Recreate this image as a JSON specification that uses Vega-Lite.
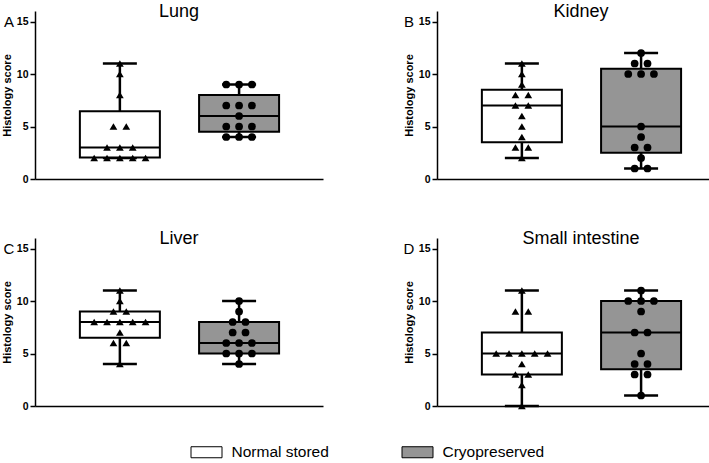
{
  "$schema": "https://vega.github.io/schema/vega-lite/v6.json",
  "padding": {"left": 1, "top": 3, "right": 2, "bottom": 2},
  "datasets": {
    "boxes": [
      {"organ": "Lung", "group": "Normal stored", "min": 2, "q1": 2.05, "median": 3, "q3": 6.45, "max": 11},
      {"organ": "Lung", "group": "Cryopreserved", "min": 4, "q1": 4.5, "median": 6, "q3": 8, "max": 9},
      {"organ": "Kidney", "group": "Normal stored", "min": 2, "q1": 3.5, "median": 7, "q3": 8.5, "max": 11},
      {"organ": "Kidney", "group": "Cryopreserved", "min": 1, "q1": 2.5, "median": 5, "q3": 10.5, "max": 12},
      {"organ": "Liver", "group": "Normal stored", "min": 4, "q1": 6.5, "median": 8, "q3": 9, "max": 11},
      {"organ": "Liver", "group": "Cryopreserved", "min": 4, "q1": 5, "median": 6, "q3": 8, "max": 10},
      {"organ": "Small intestine", "group": "Normal stored", "min": 0, "q1": 3, "median": 5, "q3": 7, "max": 11},
      {"organ": "Small intestine", "group": "Cryopreserved", "min": 1, "q1": 3.5, "median": 7, "q3": 10, "max": 11}
    ],
    "points": [
      {"organ": "Lung", "group": "Normal stored", "score": 2},
      {"organ": "Lung", "group": "Normal stored", "score": 2},
      {"organ": "Lung", "group": "Normal stored", "score": 2},
      {"organ": "Lung", "group": "Normal stored", "score": 2},
      {"organ": "Lung", "group": "Normal stored", "score": 2},
      {"organ": "Lung", "group": "Normal stored", "score": 3},
      {"organ": "Lung", "group": "Normal stored", "score": 3},
      {"organ": "Lung", "group": "Normal stored", "score": 3},
      {"organ": "Lung", "group": "Normal stored", "score": 5},
      {"organ": "Lung", "group": "Normal stored", "score": 5},
      {"organ": "Lung", "group": "Normal stored", "score": 8},
      {"organ": "Lung", "group": "Normal stored", "score": 10},
      {"organ": "Lung", "group": "Normal stored", "score": 11},
      {"organ": "Lung", "group": "Cryopreserved", "score": 4},
      {"organ": "Lung", "group": "Cryopreserved", "score": 4},
      {"organ": "Lung", "group": "Cryopreserved", "score": 4},
      {"organ": "Lung", "group": "Cryopreserved", "score": 5},
      {"organ": "Lung", "group": "Cryopreserved", "score": 5},
      {"organ": "Lung", "group": "Cryopreserved", "score": 5},
      {"organ": "Lung", "group": "Cryopreserved", "score": 6},
      {"organ": "Lung", "group": "Cryopreserved", "score": 7},
      {"organ": "Lung", "group": "Cryopreserved", "score": 7},
      {"organ": "Lung", "group": "Cryopreserved", "score": 7},
      {"organ": "Lung", "group": "Cryopreserved", "score": 9},
      {"organ": "Lung", "group": "Cryopreserved", "score": 9},
      {"organ": "Lung", "group": "Cryopreserved", "score": 9},
      {"organ": "Kidney", "group": "Normal stored", "score": 2},
      {"organ": "Kidney", "group": "Normal stored", "score": 3},
      {"organ": "Kidney", "group": "Normal stored", "score": 3},
      {"organ": "Kidney", "group": "Normal stored", "score": 4},
      {"organ": "Kidney", "group": "Normal stored", "score": 5},
      {"organ": "Kidney", "group": "Normal stored", "score": 6},
      {"organ": "Kidney", "group": "Normal stored", "score": 7},
      {"organ": "Kidney", "group": "Normal stored", "score": 7},
      {"organ": "Kidney", "group": "Normal stored", "score": 8},
      {"organ": "Kidney", "group": "Normal stored", "score": 8},
      {"organ": "Kidney", "group": "Normal stored", "score": 9},
      {"organ": "Kidney", "group": "Normal stored", "score": 10},
      {"organ": "Kidney", "group": "Normal stored", "score": 11},
      {"organ": "Kidney", "group": "Cryopreserved", "score": 1},
      {"organ": "Kidney", "group": "Cryopreserved", "score": 1},
      {"organ": "Kidney", "group": "Cryopreserved", "score": 2},
      {"organ": "Kidney", "group": "Cryopreserved", "score": 3},
      {"organ": "Kidney", "group": "Cryopreserved", "score": 3},
      {"organ": "Kidney", "group": "Cryopreserved", "score": 4},
      {"organ": "Kidney", "group": "Cryopreserved", "score": 5},
      {"organ": "Kidney", "group": "Cryopreserved", "score": 10},
      {"organ": "Kidney", "group": "Cryopreserved", "score": 10},
      {"organ": "Kidney", "group": "Cryopreserved", "score": 10},
      {"organ": "Kidney", "group": "Cryopreserved", "score": 11},
      {"organ": "Kidney", "group": "Cryopreserved", "score": 11},
      {"organ": "Kidney", "group": "Cryopreserved", "score": 12},
      {"organ": "Liver", "group": "Normal stored", "score": 4},
      {"organ": "Liver", "group": "Normal stored", "score": 6},
      {"organ": "Liver", "group": "Normal stored", "score": 6},
      {"organ": "Liver", "group": "Normal stored", "score": 7},
      {"organ": "Liver", "group": "Normal stored", "score": 8},
      {"organ": "Liver", "group": "Normal stored", "score": 8},
      {"organ": "Liver", "group": "Normal stored", "score": 8},
      {"organ": "Liver", "group": "Normal stored", "score": 8},
      {"organ": "Liver", "group": "Normal stored", "score": 8},
      {"organ": "Liver", "group": "Normal stored", "score": 9},
      {"organ": "Liver", "group": "Normal stored", "score": 9},
      {"organ": "Liver", "group": "Normal stored", "score": 10},
      {"organ": "Liver", "group": "Normal stored", "score": 11},
      {"organ": "Liver", "group": "Cryopreserved", "score": 4},
      {"organ": "Liver", "group": "Cryopreserved", "score": 5},
      {"organ": "Liver", "group": "Cryopreserved", "score": 5},
      {"organ": "Liver", "group": "Cryopreserved", "score": 5},
      {"organ": "Liver", "group": "Cryopreserved", "score": 6},
      {"organ": "Liver", "group": "Cryopreserved", "score": 6},
      {"organ": "Liver", "group": "Cryopreserved", "score": 6},
      {"organ": "Liver", "group": "Cryopreserved", "score": 7},
      {"organ": "Liver", "group": "Cryopreserved", "score": 7},
      {"organ": "Liver", "group": "Cryopreserved", "score": 8},
      {"organ": "Liver", "group": "Cryopreserved", "score": 8},
      {"organ": "Liver", "group": "Cryopreserved", "score": 9},
      {"organ": "Liver", "group": "Cryopreserved", "score": 10},
      {"organ": "Small intestine", "group": "Normal stored", "score": 0},
      {"organ": "Small intestine", "group": "Normal stored", "score": 2},
      {"organ": "Small intestine", "group": "Normal stored", "score": 3},
      {"organ": "Small intestine", "group": "Normal stored", "score": 3},
      {"organ": "Small intestine", "group": "Normal stored", "score": 4},
      {"organ": "Small intestine", "group": "Normal stored", "score": 5},
      {"organ": "Small intestine", "group": "Normal stored", "score": 5},
      {"organ": "Small intestine", "group": "Normal stored", "score": 5},
      {"organ": "Small intestine", "group": "Normal stored", "score": 5},
      {"organ": "Small intestine", "group": "Normal stored", "score": 5},
      {"organ": "Small intestine", "group": "Normal stored", "score": 9},
      {"organ": "Small intestine", "group": "Normal stored", "score": 9},
      {"organ": "Small intestine", "group": "Normal stored", "score": 11},
      {"organ": "Small intestine", "group": "Cryopreserved", "score": 1},
      {"organ": "Small intestine", "group": "Cryopreserved", "score": 3},
      {"organ": "Small intestine", "group": "Cryopreserved", "score": 3},
      {"organ": "Small intestine", "group": "Cryopreserved", "score": 4},
      {"organ": "Small intestine", "group": "Cryopreserved", "score": 4},
      {"organ": "Small intestine", "group": "Cryopreserved", "score": 5},
      {"organ": "Small intestine", "group": "Cryopreserved", "score": 7},
      {"organ": "Small intestine", "group": "Cryopreserved", "score": 7},
      {"organ": "Small intestine", "group": "Cryopreserved", "score": 9},
      {"organ": "Small intestine", "group": "Cryopreserved", "score": 10},
      {"organ": "Small intestine", "group": "Cryopreserved", "score": 10},
      {"organ": "Small intestine", "group": "Cryopreserved", "score": 10},
      {"organ": "Small intestine", "group": "Cryopreserved", "score": 11}
    ]
  },
  "config": {
    "font": "Liberation Sans",
    "view": {"stroke": null},
    "axis": {"grid": false, "domainColor": "black", "domainWidth": 1.5, "tickColor": "black", "tickWidth": 1.5, "labelColor": "black", "titleColor": "black"},
    "axisX": {"labels": false, "ticks": false, "title": null},
    "axisY": {"values": [0, 5, 10, 15], "tickSize": 5, "labelFontSize": 10.5, "labelFontWeight": "bold", "labelPadding": 2, "titleFontSize": 11, "titleFontWeight": "bold", "titlePadding": 4},
    "title": {"fontSize": 18, "fontWeight": "normal", "color": "black", "offset": 0, "dy": 14, "anchor": "middle"},
    "tick": {"opacity": 1}
  },
  "spacing": 45,
  "vconcat": [
    {
      "spacing": 80,
      "hconcat": [
        {
          "width": 288, "height": 168,
          "title": {"text": "Lung"},
          "layer": [
            {"data": {"name": "boxes"}, "transform": [{"filter": "datum.organ === 'Lung'"}, {"calculate": "datum.group === 'Normal stored' ? 1 : 2", "as": "pos"}], "mark": {"type": "rule", "color": "black", "strokeWidth": 2.5},
             "encoding": {"x": {"field": "pos", "type": "quantitative", "title": null, "scale": {"domain": [0.33, 2.662], "nice": false, "zero": false}}, "y": {"field": "min", "type": "quantitative", "title": "Histology score", "scale": {"domain": [0, 15]}}, "y2": {"field": "max"}}},
            {"data": {"name": "boxes"}, "transform": [{"filter": "datum.organ === 'Lung'"}, {"calculate": "datum.group === 'Normal stored' ? 1 : 2", "as": "pos"}], "mark": {"type": "tick", "orient": "horizontal", "color": "black", "opacity": 1, "thickness": 2.5, "size": 34},
             "encoding": {"x": {"field": "pos", "type": "quantitative", "title": null}, "y": {"field": "min", "type": "quantitative", "title": "Histology score"}}},
            {"data": {"name": "boxes"}, "transform": [{"filter": "datum.organ === 'Lung'"}, {"calculate": "datum.group === 'Normal stored' ? 1 : 2", "as": "pos"}], "mark": {"type": "tick", "orient": "horizontal", "color": "black", "opacity": 1, "thickness": 2.5, "size": 34},
             "encoding": {"x": {"field": "pos", "type": "quantitative", "title": null}, "y": {"field": "max", "type": "quantitative", "title": "Histology score"}}},
            {"data": {"name": "boxes"}, "transform": [{"filter": "datum.organ === 'Lung'"}, {"calculate": "datum.group === 'Normal stored' ? 1 : 2", "as": "pos"}], "mark": {"type": "bar", "stroke": "black", "strokeWidth": 2, "opacity": 1, "width": 80},
             "encoding": {"x": {"field": "pos", "type": "quantitative", "title": null}, "y": {"field": "q1", "type": "quantitative", "title": "Histology score"}, "y2": {"field": "q3"},
               "fill": {"field": "group", "type": "nominal", "scale": {"domain": ["Normal stored", "Cryopreserved"], "range": ["white", "#959595"]},
                 "legend": {"orient": "none", "legendX": 155.5, "legendY": 425, "direction": "horizontal", "title": null, "symbolType": "M-1,-0.355H1V0.355H-1Z", "symbolSize": 961, "symbolStrokeColor": "#888888", "symbolStrokeWidth": 1, "labelFontSize": 15.5, "labelColor": "black", "labelOffset": 9, "columnPadding": 70, "symbolOpacity": 1}}}},
            {"data": {"name": "boxes"}, "transform": [{"filter": "datum.organ === 'Lung'"}, {"calculate": "datum.group === 'Normal stored' ? 1 : 2", "as": "pos"}], "mark": {"type": "tick", "orient": "horizontal", "color": "black", "opacity": 1, "thickness": 2, "size": 80},
             "encoding": {"x": {"field": "pos", "type": "quantitative", "title": null}, "y": {"field": "median", "type": "quantitative", "title": "Histology score"}}},
            {"data": {"name": "points"}, "transform": [{"filter": "datum.organ === 'Lung'"}, {"window": [{"op": "row_number", "as": "rn"}, {"op": "count", "as": "n"}], "groupby": ["group", "score"], "frame": [null, null]}, {"calculate": "(datum.group === 'Normal stored' ? 1 : 2) + 0.1077 * (datum.rn - (datum.n + 1) / 2)", "as": "px"}],
             "mark": {"type": "point", "filled": true, "color": "black", "opacity": 1, "size": 60},
             "encoding": {"x": {"field": "px", "type": "quantitative", "title": null}, "y": {"field": "score", "type": "quantitative", "title": "Histology score"},
               "shape": {"condition": {"test": "datum.group === 'Normal stored'", "value": "triangle-up"}, "value": "circle"}}},
            {"data": {"values": [{"letter": "A"}]}, "mark": {"type": "text", "fontSize": 15, "align": "center", "baseline": "middle", "x": -26, "color": "black"},
             "encoding": {"text": {"field": "letter"}, "y": {"datum": 15, "type": "quantitative", "title": "Histology score"}}}
          ]
        },
        {
          "width": 288, "height": 168,
          "title": {"text": "Kidney"},
          "layer": [
            {"data": {"name": "boxes"}, "transform": [{"filter": "datum.organ === 'Kidney'"}, {"calculate": "datum.group === 'Normal stored' ? 1 : 2", "as": "pos"}], "mark": {"type": "rule", "color": "black", "strokeWidth": 2.5},
             "encoding": {"x": {"field": "pos", "type": "quantitative", "title": null, "scale": {"domain": [0.33, 2.662], "nice": false, "zero": false}}, "y": {"field": "min", "type": "quantitative", "title": "Histology score", "scale": {"domain": [0, 15]}}, "y2": {"field": "max"}}},
            {"data": {"name": "boxes"}, "transform": [{"filter": "datum.organ === 'Kidney'"}, {"calculate": "datum.group === 'Normal stored' ? 1 : 2", "as": "pos"}], "mark": {"type": "tick", "orient": "horizontal", "color": "black", "opacity": 1, "thickness": 2.5, "size": 34},
             "encoding": {"x": {"field": "pos", "type": "quantitative", "title": null}, "y": {"field": "min", "type": "quantitative", "title": "Histology score"}}},
            {"data": {"name": "boxes"}, "transform": [{"filter": "datum.organ === 'Kidney'"}, {"calculate": "datum.group === 'Normal stored' ? 1 : 2", "as": "pos"}], "mark": {"type": "tick", "orient": "horizontal", "color": "black", "opacity": 1, "thickness": 2.5, "size": 34},
             "encoding": {"x": {"field": "pos", "type": "quantitative", "title": null}, "y": {"field": "max", "type": "quantitative", "title": "Histology score"}}},
            {"data": {"name": "boxes"}, "transform": [{"filter": "datum.organ === 'Kidney'"}, {"calculate": "datum.group === 'Normal stored' ? 1 : 2", "as": "pos"}], "mark": {"type": "bar", "stroke": "black", "strokeWidth": 2, "opacity": 1, "width": 80},
             "encoding": {"x": {"field": "pos", "type": "quantitative", "title": null}, "y": {"field": "q1", "type": "quantitative", "title": "Histology score"}, "y2": {"field": "q3"},
               "fill": {"field": "group", "type": "nominal"}}},
            {"data": {"name": "boxes"}, "transform": [{"filter": "datum.organ === 'Kidney'"}, {"calculate": "datum.group === 'Normal stored' ? 1 : 2", "as": "pos"}], "mark": {"type": "tick", "orient": "horizontal", "color": "black", "opacity": 1, "thickness": 2, "size": 80},
             "encoding": {"x": {"field": "pos", "type": "quantitative", "title": null}, "y": {"field": "median", "type": "quantitative", "title": "Histology score"}}},
            {"data": {"name": "points"}, "transform": [{"filter": "datum.organ === 'Kidney'"}, {"window": [{"op": "row_number", "as": "rn"}, {"op": "count", "as": "n"}], "groupby": ["group", "score"], "frame": [null, null]}, {"calculate": "(datum.group === 'Normal stored' ? 1 : 2) + 0.1077 * (datum.rn - (datum.n + 1) / 2)", "as": "px"}],
             "mark": {"type": "point", "filled": true, "color": "black", "opacity": 1, "size": 60},
             "encoding": {"x": {"field": "px", "type": "quantitative", "title": null}, "y": {"field": "score", "type": "quantitative", "title": "Histology score"},
               "shape": {"condition": {"test": "datum.group === 'Normal stored'", "value": "triangle-up"}, "value": "circle"}}},
            {"data": {"values": [{"letter": "B"}]}, "mark": {"type": "text", "fontSize": 15, "align": "center", "baseline": "middle", "x": -28, "color": "black"},
             "encoding": {"text": {"field": "letter"}, "y": {"datum": 15, "type": "quantitative", "title": "Histology score"}}}
          ]
        }
      ]
    },
    {
      "spacing": 80,
      "hconcat": [
        {
          "width": 288, "height": 168,
          "title": {"text": "Liver"},
          "layer": [
            {"data": {"name": "boxes"}, "transform": [{"filter": "datum.organ === 'Liver'"}, {"calculate": "datum.group === 'Normal stored' ? 1 : 2", "as": "pos"}], "mark": {"type": "rule", "color": "black", "strokeWidth": 2.5},
             "encoding": {"x": {"field": "pos", "type": "quantitative", "title": null, "scale": {"domain": [0.33, 2.662], "nice": false, "zero": false}}, "y": {"field": "min", "type": "quantitative", "title": "Histology score", "scale": {"domain": [0, 15]}}, "y2": {"field": "max"}}},
            {"data": {"name": "boxes"}, "transform": [{"filter": "datum.organ === 'Liver'"}, {"calculate": "datum.group === 'Normal stored' ? 1 : 2", "as": "pos"}], "mark": {"type": "tick", "orient": "horizontal", "color": "black", "opacity": 1, "thickness": 2.5, "size": 34},
             "encoding": {"x": {"field": "pos", "type": "quantitative", "title": null}, "y": {"field": "min", "type": "quantitative", "title": "Histology score"}}},
            {"data": {"name": "boxes"}, "transform": [{"filter": "datum.organ === 'Liver'"}, {"calculate": "datum.group === 'Normal stored' ? 1 : 2", "as": "pos"}], "mark": {"type": "tick", "orient": "horizontal", "color": "black", "opacity": 1, "thickness": 2.5, "size": 34},
             "encoding": {"x": {"field": "pos", "type": "quantitative", "title": null}, "y": {"field": "max", "type": "quantitative", "title": "Histology score"}}},
            {"data": {"name": "boxes"}, "transform": [{"filter": "datum.organ === 'Liver'"}, {"calculate": "datum.group === 'Normal stored' ? 1 : 2", "as": "pos"}], "mark": {"type": "bar", "stroke": "black", "strokeWidth": 2, "opacity": 1, "width": 80},
             "encoding": {"x": {"field": "pos", "type": "quantitative", "title": null}, "y": {"field": "q1", "type": "quantitative", "title": "Histology score"}, "y2": {"field": "q3"},
               "fill": {"field": "group", "type": "nominal"}}},
            {"data": {"name": "boxes"}, "transform": [{"filter": "datum.organ === 'Liver'"}, {"calculate": "datum.group === 'Normal stored' ? 1 : 2", "as": "pos"}], "mark": {"type": "tick", "orient": "horizontal", "color": "black", "opacity": 1, "thickness": 2, "size": 80},
             "encoding": {"x": {"field": "pos", "type": "quantitative", "title": null}, "y": {"field": "median", "type": "quantitative", "title": "Histology score"}}},
            {"data": {"name": "points"}, "transform": [{"filter": "datum.organ === 'Liver'"}, {"window": [{"op": "row_number", "as": "rn"}, {"op": "count", "as": "n"}], "groupby": ["group", "score"], "frame": [null, null]}, {"calculate": "(datum.group === 'Normal stored' ? 1 : 2) + 0.1077 * (datum.rn - (datum.n + 1) / 2)", "as": "px"}],
             "mark": {"type": "point", "filled": true, "color": "black", "opacity": 1, "size": 60},
             "encoding": {"x": {"field": "px", "type": "quantitative", "title": null}, "y": {"field": "score", "type": "quantitative", "title": "Histology score"},
               "shape": {"condition": {"test": "datum.group === 'Normal stored'", "value": "triangle-up"}, "value": "circle"}}},
            {"data": {"values": [{"letter": "C"}]}, "mark": {"type": "text", "fontSize": 15, "align": "center", "baseline": "middle", "x": -26, "color": "black"},
             "encoding": {"text": {"field": "letter"}, "y": {"datum": 15, "type": "quantitative", "title": "Histology score"}}}
          ]
        },
        {
          "width": 288, "height": 168,
          "title": {"text": "Small intestine"},
          "layer": [
            {"data": {"name": "boxes"}, "transform": [{"filter": "datum.organ === 'Small intestine'"}, {"calculate": "datum.group === 'Normal stored' ? 1 : 2", "as": "pos"}], "mark": {"type": "rule", "color": "black", "strokeWidth": 2.5},
             "encoding": {"x": {"field": "pos", "type": "quantitative", "title": null, "scale": {"domain": [0.33, 2.662], "nice": false, "zero": false}}, "y": {"field": "min", "type": "quantitative", "title": "Histology score", "scale": {"domain": [0, 15]}}, "y2": {"field": "max"}}},
            {"data": {"name": "boxes"}, "transform": [{"filter": "datum.organ === 'Small intestine'"}, {"calculate": "datum.group === 'Normal stored' ? 1 : 2", "as": "pos"}], "mark": {"type": "tick", "orient": "horizontal", "color": "black", "opacity": 1, "thickness": 2.5, "size": 34},
             "encoding": {"x": {"field": "pos", "type": "quantitative", "title": null}, "y": {"field": "min", "type": "quantitative", "title": "Histology score"}}},
            {"data": {"name": "boxes"}, "transform": [{"filter": "datum.organ === 'Small intestine'"}, {"calculate": "datum.group === 'Normal stored' ? 1 : 2", "as": "pos"}], "mark": {"type": "tick", "orient": "horizontal", "color": "black", "opacity": 1, "thickness": 2.5, "size": 34},
             "encoding": {"x": {"field": "pos", "type": "quantitative", "title": null}, "y": {"field": "max", "type": "quantitative", "title": "Histology score"}}},
            {"data": {"name": "boxes"}, "transform": [{"filter": "datum.organ === 'Small intestine'"}, {"calculate": "datum.group === 'Normal stored' ? 1 : 2", "as": "pos"}], "mark": {"type": "bar", "stroke": "black", "strokeWidth": 2, "opacity": 1, "width": 80},
             "encoding": {"x": {"field": "pos", "type": "quantitative", "title": null}, "y": {"field": "q1", "type": "quantitative", "title": "Histology score"}, "y2": {"field": "q3"},
               "fill": {"field": "group", "type": "nominal"}}},
            {"data": {"name": "boxes"}, "transform": [{"filter": "datum.organ === 'Small intestine'"}, {"calculate": "datum.group === 'Normal stored' ? 1 : 2", "as": "pos"}], "mark": {"type": "tick", "orient": "horizontal", "color": "black", "opacity": 1, "thickness": 2, "size": 80},
             "encoding": {"x": {"field": "pos", "type": "quantitative", "title": null}, "y": {"field": "median", "type": "quantitative", "title": "Histology score"}}},
            {"data": {"name": "points"}, "transform": [{"filter": "datum.organ === 'Small intestine'"}, {"window": [{"op": "row_number", "as": "rn"}, {"op": "count", "as": "n"}], "groupby": ["group", "score"], "frame": [null, null]}, {"calculate": "(datum.group === 'Normal stored' ? 1 : 2) + 0.1077 * (datum.rn - (datum.n + 1) / 2)", "as": "px"}],
             "mark": {"type": "point", "filled": true, "color": "black", "opacity": 1, "size": 60},
             "encoding": {"x": {"field": "px", "type": "quantitative", "title": null}, "y": {"field": "score", "type": "quantitative", "title": "Histology score"},
               "shape": {"condition": {"test": "datum.group === 'Normal stored'", "value": "triangle-up"}, "value": "circle"}}},
            {"data": {"values": [{"letter": "D"}]}, "mark": {"type": "text", "fontSize": 15, "align": "center", "baseline": "middle", "x": -28, "color": "black"},
             "encoding": {"text": {"field": "letter"}, "y": {"datum": 15, "type": "quantitative", "title": "Histology score"}}}
          ]
        }
      ]
    }
  ]
}
